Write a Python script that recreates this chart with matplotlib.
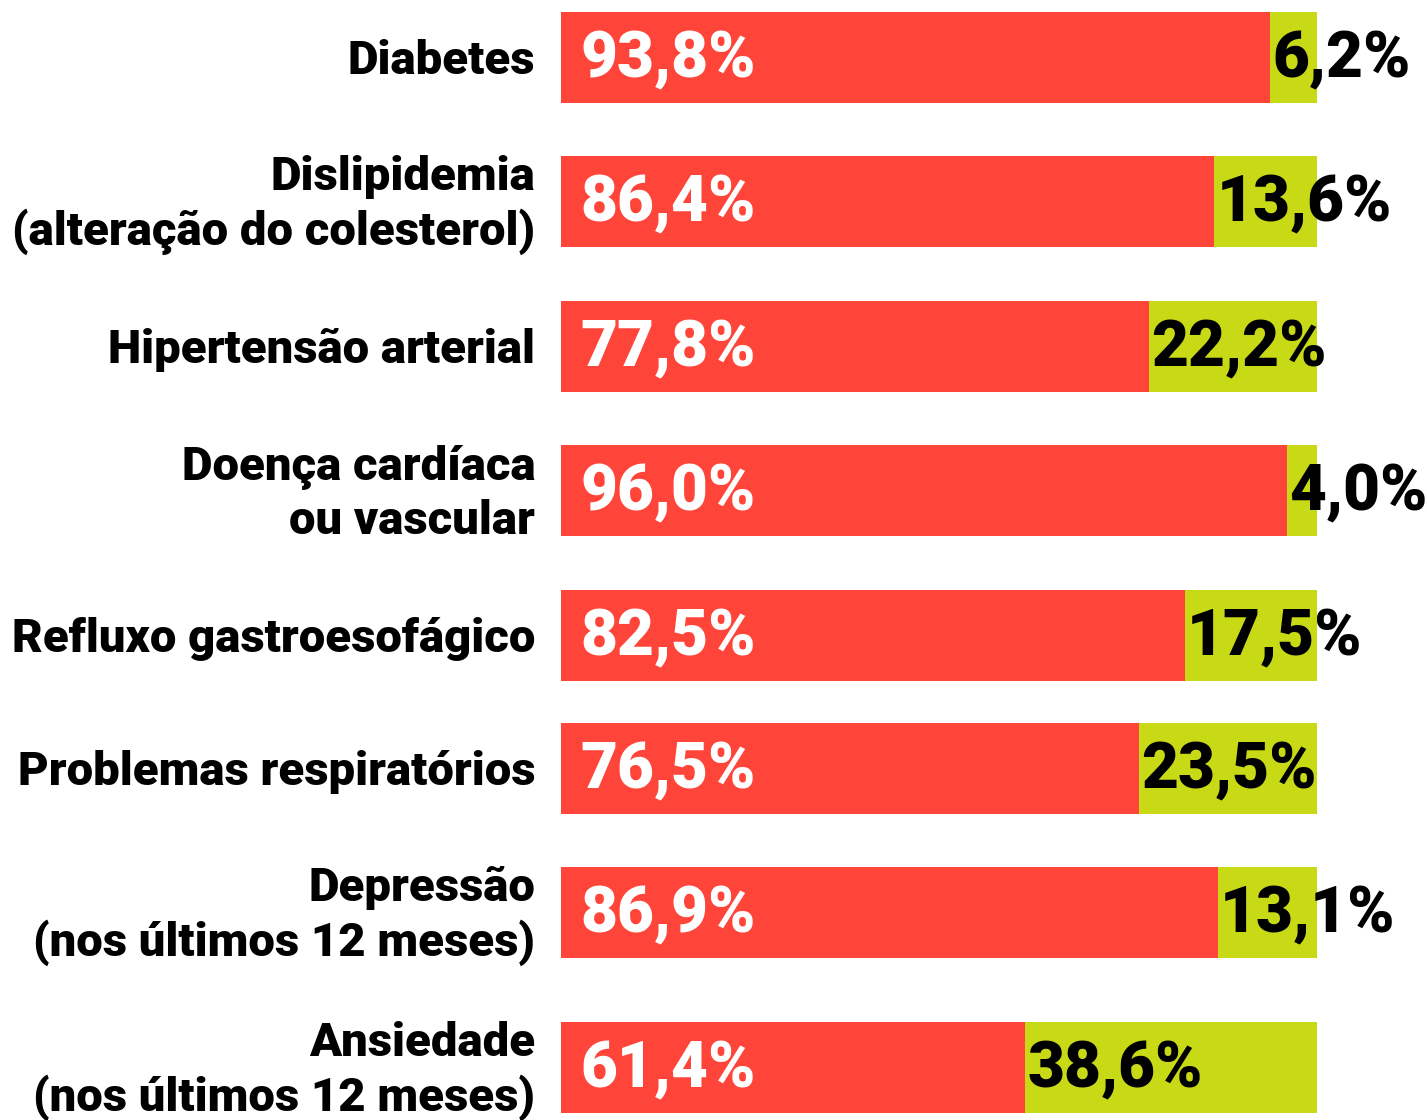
import matplotlib
matplotlib.use("Agg")
import matplotlib.pyplot as plt

# dados
categorias = [
    "Diabetes",
    "Dislipidemia\n(alteração do colesterol)",
    "Hipertensão arterial",
    "Doença cardíaca\nou vascular",
    "Refluxo gastroesofágico",
    "Problemas respiratórios",
    "Depressão\n(nos últimos 12 meses)",
    "Ansiedade\n(nos últimos 12 meses)",
]
nao = [93.8, 86.4, 77.8, 96.0, 82.5, 76.5, 86.9, 61.4]
sim = [6.2, 13.6, 22.2, 4.0, 17.5, 23.5, 13.1, 38.6]

# layout (centro de cada barra, em pixels a partir do topo)
row_pos = [57, 201, 346, 490, 635, 768, 912, 1067]

VERMELHO = "#FF4539"
VERDE = "#C8D916"
W, H = 1427, 1120

plt.rcParams['font.family'] = ['Roboto', 'DejaVu Sans']

fig = plt.figure(figsize=(W / 100, H / 100), dpi=100)
x0, x1 = 561, 1317
ax = fig.add_axes([x0 / W, 0, (x1 - x0) / W, 1])
ax.set_xlim(0, 100)
ax.set_ylim(H, 0)
ax.axis('off')

ax.barh(row_pos, nao, height=91, color=VERMELHO)
ax.barh(row_pos, sim, left=nao, height=91, color=VERDE)

for y, cat, a, b in zip(row_pos, categorias, nao, sim):
    ax.text(-3.4, y + 4, cat, ha='right', va='center', fontsize=34,
            fontweight='black', color='black', linespacing=1.27)
    ax.text(2.6, y + 2, f"{a:.1f}%".replace('.', ','), ha='left', va='center',
            fontsize=46, fontweight='black', color='white')
    ax.text(a + 0.3, y + 2, f"{b:.1f}%".replace('.', ','), ha='left', va='center',
            fontsize=46, fontweight='black', color='black', clip_on=False)

fig.savefig("out.png", dpi=100)
